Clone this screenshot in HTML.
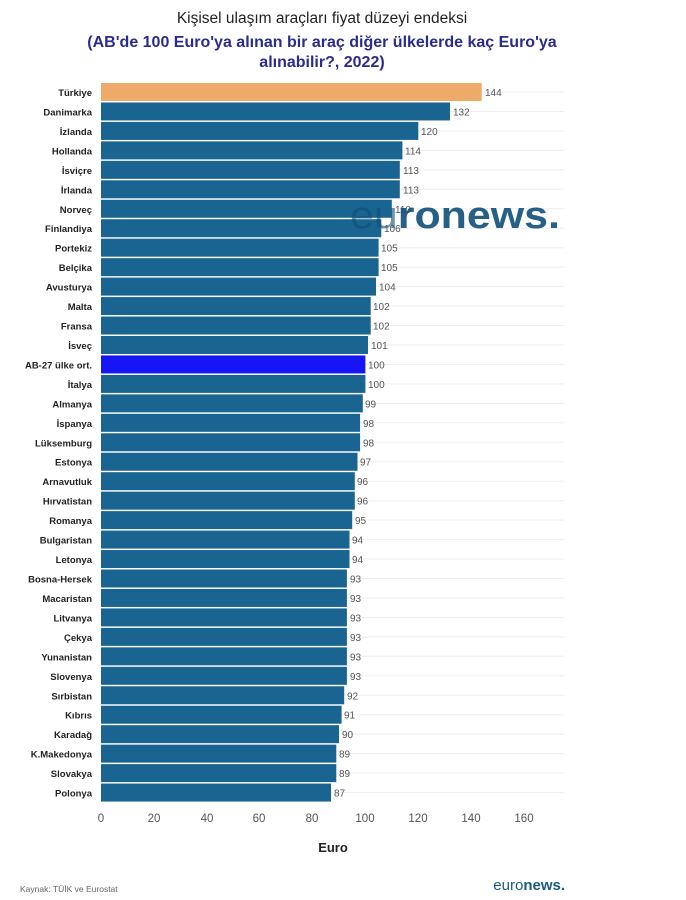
<!DOCTYPE html>
<html><head><meta charset="utf-8"><style>
body{margin:0;background:#fff;width:686px;height:900px;overflow:hidden;font-family:"Liberation Sans","DejaVu Sans",sans-serif}
svg{display:block}
.l{font-size:9.5px;font-weight:bold;fill:#222;text-anchor:end}
.v{font-size:10px;fill:#555}
.t{font-size:11.5px;fill:#555;text-anchor:middle}
</style></head><body>
<svg width="686" height="900" viewBox="0 0 686 900">
<text x="322" y="23" text-anchor="middle" font-size="15.5" fill="#222">Kişisel ulaşım araçları fiyat düzeyi endeksi</text>
<text x="322" y="47" text-anchor="middle" font-size="16" font-weight="bold" fill="#2b2b8f">(AB'de 100 Euro'ya alınan bir araç diğer ülkelerde kaç Euro'ya</text>
<text x="322" y="67" text-anchor="middle" font-size="16" font-weight="bold" fill="#2b2b8f">alınabilir?, 2022)</text>
<g stroke="#eee" stroke-width="1">
<line x1="101" x2="564" y1="92" y2="92"/><line x1="101" x2="564" y1="111.5" y2="111.5"/><line x1="101" x2="564" y1="131" y2="131"/><line x1="101" x2="564" y1="150.4" y2="150.4"/><line x1="101" x2="564" y1="169.8" y2="169.8"/><line x1="101" x2="564" y1="189.3" y2="189.3"/><line x1="101" x2="564" y1="208.8" y2="208.8"/><line x1="101" x2="564" y1="228.2" y2="228.2"/><line x1="101" x2="564" y1="247.7" y2="247.7"/><line x1="101" x2="564" y1="267.1" y2="267.1"/><line x1="101" x2="564" y1="286.6" y2="286.6"/><line x1="101" x2="564" y1="306" y2="306"/><line x1="101" x2="564" y1="325.5" y2="325.5"/><line x1="101" x2="564" y1="345" y2="345"/><line x1="101" x2="564" y1="364.4" y2="364.4"/><line x1="101" x2="564" y1="383.9" y2="383.9"/><line x1="101" x2="564" y1="403.4" y2="403.4"/><line x1="101" x2="564" y1="422.8" y2="422.8"/><line x1="101" x2="564" y1="442.3" y2="442.3"/><line x1="101" x2="564" y1="461.7" y2="461.7"/><line x1="101" x2="564" y1="481.2" y2="481.2"/><line x1="101" x2="564" y1="500.7" y2="500.7"/><line x1="101" x2="564" y1="520.1" y2="520.1"/><line x1="101" x2="564" y1="539.6" y2="539.6"/><line x1="101" x2="564" y1="559" y2="559"/><line x1="101" x2="564" y1="578.5" y2="578.5"/><line x1="101" x2="564" y1="598" y2="598"/><line x1="101" x2="564" y1="617.4" y2="617.4"/><line x1="101" x2="564" y1="636.9" y2="636.9"/><line x1="101" x2="564" y1="656.3" y2="656.3"/><line x1="101" x2="564" y1="675.8" y2="675.8"/><line x1="101" x2="564" y1="695.3" y2="695.3"/><line x1="101" x2="564" y1="714.7" y2="714.7"/><line x1="101" x2="564" y1="734.2" y2="734.2"/><line x1="101" x2="564" y1="753.6" y2="753.6"/><line x1="101" x2="564" y1="773.1" y2="773.1"/><line x1="101" x2="564" y1="792.6" y2="792.6"/>
</g>
<g fill="#1a6491">
<g transform="translate(0,83)"><rect x="101" y="0" width="380.7" height="18" fill="#eeaa68"/><text class="l" x="92" y="13">Türkiye</text><text class="v" x="485" y="13">144</text></g>
<g transform="translate(0,102.46)"><rect x="101" y="0" width="349" height="18"/><text class="l" x="92" y="13">Danimarka</text><text class="v" x="453" y="13">132</text></g>
<g transform="translate(0,121.92)"><rect x="101" y="0" width="317.3" height="18"/><text class="l" x="92" y="13">İzlanda</text><text class="v" x="421" y="13">120</text></g>
<g transform="translate(0,141.38)"><rect x="101" y="0" width="301.4" height="18"/><text class="l" x="92" y="13">Hollanda</text><text class="v" x="405" y="13">114</text></g>
<g transform="translate(0,160.84)"><rect x="101" y="0" width="298.8" height="18"/><text class="l" x="92" y="13">İsviçre</text><text class="v" x="403" y="13">113</text></g>
<g transform="translate(0,180.3)"><rect x="101" y="0" width="298.8" height="18"/><text class="l" x="92" y="13">İrlanda</text><text class="v" x="403" y="13">113</text></g>
<g transform="translate(0,199.76)"><rect x="101" y="0" width="290.8" height="18"/><text class="l" x="92" y="13">Norveç</text><text class="v" x="395" y="13">110</text></g>
<g transform="translate(0,219.22)"><rect x="101" y="0" width="280.3" height="18"/><text class="l" x="92" y="13">Finlandiya</text><text class="v" x="384" y="13">106</text></g>
<g transform="translate(0,238.68)"><rect x="101" y="0" width="277.6" height="18"/><text class="l" x="92" y="13">Portekiz</text><text class="v" x="381" y="13">105</text></g>
<g transform="translate(0,258.14)"><rect x="101" y="0" width="277.6" height="18"/><text class="l" x="92" y="13">Belçika</text><text class="v" x="381" y="13">105</text></g>
<g transform="translate(0,277.6)"><rect x="101" y="0" width="275" height="18"/><text class="l" x="92" y="13">Avusturya</text><text class="v" x="379" y="13">104</text></g>
<g transform="translate(0,297.06)"><rect x="101" y="0" width="269.7" height="18"/><text class="l" x="92" y="13">Malta</text><text class="v" x="373" y="13">102</text></g>
<g transform="translate(0,316.52)"><rect x="101" y="0" width="269.7" height="18"/><text class="l" x="92" y="13">Fransa</text><text class="v" x="373" y="13">102</text></g>
<g transform="translate(0,335.98)"><rect x="101" y="0" width="267" height="18"/><text class="l" x="92" y="13">İsveç</text><text class="v" x="371" y="13">101</text></g>
<g transform="translate(0,355.44)"><rect x="101" y="0" width="264.4" height="18" fill="#1515f5"/><text class="l" x="92" y="13">AB-27 ülke ort.</text><text class="v" x="368" y="13">100</text></g>
<g transform="translate(0,374.9)"><rect x="101" y="0" width="264.4" height="18"/><text class="l" x="92" y="13">İtalya</text><text class="v" x="368" y="13">100</text></g>
<g transform="translate(0,394.36)"><rect x="101" y="0" width="261.8" height="18"/><text class="l" x="92" y="13">Almanya</text><text class="v" x="365" y="13">99</text></g>
<g transform="translate(0,413.82)"><rect x="101" y="0" width="259.1" height="18"/><text class="l" x="92" y="13">İspanya</text><text class="v" x="363" y="13">98</text></g>
<g transform="translate(0,433.28)"><rect x="101" y="0" width="259.1" height="18"/><text class="l" x="92" y="13">Lüksemburg</text><text class="v" x="363" y="13">98</text></g>
<g transform="translate(0,452.74)"><rect x="101" y="0" width="256.5" height="18"/><text class="l" x="92" y="13">Estonya</text><text class="v" x="360" y="13">97</text></g>
<g transform="translate(0,472.2)"><rect x="101" y="0" width="253.8" height="18"/><text class="l" x="92" y="13">Arnavutluk</text><text class="v" x="357" y="13">96</text></g>
<g transform="translate(0,491.66)"><rect x="101" y="0" width="253.8" height="18"/><text class="l" x="92" y="13">Hırvatistan</text><text class="v" x="357" y="13">96</text></g>
<g transform="translate(0,511.12)"><rect x="101" y="0" width="251.2" height="18"/><text class="l" x="92" y="13">Romanya</text><text class="v" x="355" y="13">95</text></g>
<g transform="translate(0,530.58)"><rect x="101" y="0" width="248.5" height="18"/><text class="l" x="92" y="13">Bulgaristan</text><text class="v" x="352" y="13">94</text></g>
<g transform="translate(0,550.04)"><rect x="101" y="0" width="248.5" height="18"/><text class="l" x="92" y="13">Letonya</text><text class="v" x="352" y="13">94</text></g>
<g transform="translate(0,569.5)"><rect x="101" y="0" width="245.9" height="18"/><text class="l" x="92" y="13">Bosna-Hersek</text><text class="v" x="350" y="13">93</text></g>
<g transform="translate(0,588.96)"><rect x="101" y="0" width="245.9" height="18"/><text class="l" x="92" y="13">Macaristan</text><text class="v" x="350" y="13">93</text></g>
<g transform="translate(0,608.42)"><rect x="101" y="0" width="245.9" height="18"/><text class="l" x="92" y="13">Litvanya</text><text class="v" x="350" y="13">93</text></g>
<g transform="translate(0,627.88)"><rect x="101" y="0" width="245.9" height="18"/><text class="l" x="92" y="13">Çekya</text><text class="v" x="350" y="13">93</text></g>
<g transform="translate(0,647.34)"><rect x="101" y="0" width="245.9" height="18"/><text class="l" x="92" y="13">Yunanistan</text><text class="v" x="350" y="13">93</text></g>
<g transform="translate(0,666.8)"><rect x="101" y="0" width="245.9" height="18"/><text class="l" x="92" y="13">Slovenya</text><text class="v" x="350" y="13">93</text></g>
<g transform="translate(0,686.26)"><rect x="101" y="0" width="243.2" height="18"/><text class="l" x="92" y="13">Sırbistan</text><text class="v" x="347" y="13">92</text></g>
<g transform="translate(0,705.72)"><rect x="101" y="0" width="240.6" height="18"/><text class="l" x="92" y="13">Kıbrıs</text><text class="v" x="344" y="13">91</text></g>
<g transform="translate(0,725.18)"><rect x="101" y="0" width="238" height="18"/><text class="l" x="92" y="13">Karadağ</text><text class="v" x="342" y="13">90</text></g>
<g transform="translate(0,744.64)"><rect x="101" y="0" width="235.3" height="18"/><text class="l" x="92" y="13">K.Makedonya</text><text class="v" x="339" y="13">89</text></g>
<g transform="translate(0,764.1)"><rect x="101" y="0" width="235.3" height="18"/><text class="l" x="92" y="13">Slovakya</text><text class="v" x="339" y="13">89</text></g>
<g transform="translate(0,783.56)"><rect x="101" y="0" width="230" height="18"/><text class="l" x="92" y="13">Polonya</text><text class="v" x="334" y="13">87</text></g>
</g>
<text x="350" y="228" textLength="210" lengthAdjust="spacingAndGlyphs" font-size="38" font-weight="bold" fill="#0e4f7a" fill-opacity="0.9"><tspan font-weight="normal" fill-opacity="0.6">eu</tspan>ronews.</text>
<text class="t" x="101" y="822">0</text><text class="t" x="154" y="822">20</text><text class="t" x="207" y="822">40</text><text class="t" x="259" y="822">60</text><text class="t" x="312" y="822">80</text><text class="t" x="365" y="822">100</text><text class="t" x="418" y="822">120</text><text class="t" x="471" y="822">140</text><text class="t" x="524" y="822">160</text>
<text x="333" y="852" text-anchor="middle" font-size="13" font-weight="bold" fill="#222">Euro</text>
<text x="20" y="892" font-size="8.5" fill="#666">Kaynak: TÜİK ve Eurostat</text>
<text x="565" y="890" text-anchor="end" font-size="15" fill="#1a5a82"><tspan>euro</tspan><tspan font-weight="bold">news.</tspan></text>
</svg>
</body></html>
